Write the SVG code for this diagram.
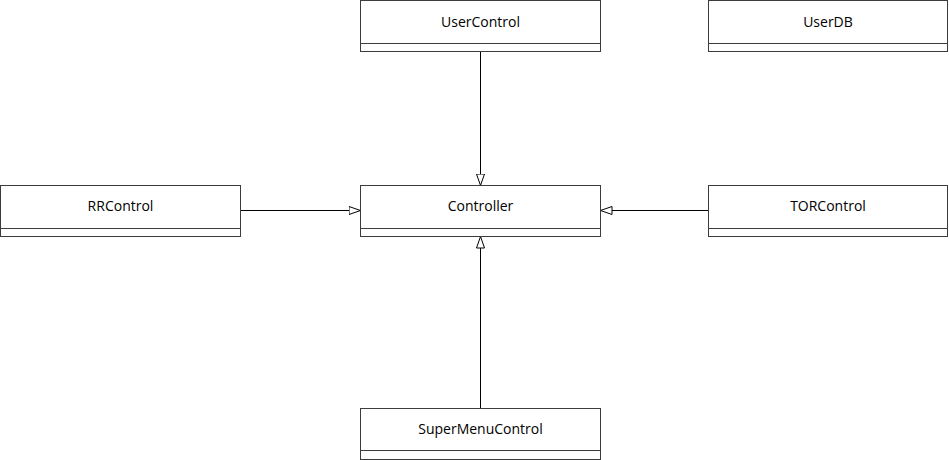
<svg xmlns="http://www.w3.org/2000/svg" width="949" height="460" viewBox="0 0 949 460">
<style>
.box{fill:#fff;stroke:#3c3c3c;stroke-width:1}
.div{stroke:#3c3c3c;stroke-width:1}
.lbl{font-family:"Open Sans","Noto Sans",sans-serif;font-size:14px;fill:#000;text-anchor:middle}
.edge{stroke:#000;stroke-width:1;fill:none;marker-end:url(#tri)}
</style>
<defs>
<marker id="tri" markerUnits="userSpaceOnUse" markerWidth="14" markerHeight="10" refX="12" refY="4.5" orient="auto">
<path d="M0.5,0.5 L12,4.5 L0.5,8.5 Z" fill="#fff" stroke="#000" stroke-width="1"/>
</marker>
</defs>
<rect width="949" height="460" fill="#fff"/>
<g id="connectors">
<line class="edge" x1="480.5" y1="51.5" x2="480.5" y2="185.5"/>
<line class="edge" x1="240.5" y1="210.5" x2="360.5" y2="210.5"/>
<line class="edge" x1="708.5" y1="210.5" x2="600.5" y2="210.5"/>
<line class="edge" x1="480.5" y1="408.5" x2="480.5" y2="236.5"/>
</g>
<g id="UserControl">
<rect class="box" x="360.5" y="0.5" width="240" height="51"/>
<line class="div" x1="360.5" y1="43.5" x2="600.5" y2="43.5"/>
<text class="lbl" x="480.5" y="26.5">UserControl</text>
</g>
<g id="UserDB">
<rect class="box" x="708.5" y="0.5" width="239" height="51"/>
<line class="div" x1="708.5" y1="43.5" x2="947.5" y2="43.5"/>
<text class="lbl" x="828" y="26.5">UserDB</text>
</g>
<g id="RRControl">
<rect class="box" x="0.5" y="185.5" width="240" height="51"/>
<line class="div" x1="0.5" y1="228.5" x2="240.5" y2="228.5"/>
<text class="lbl" x="120.5" y="211">RRControl</text>
</g>
<g id="Controller">
<rect class="box" x="360.5" y="185.5" width="240" height="51"/>
<line class="div" x1="360.5" y1="228.5" x2="600.5" y2="228.5"/>
<text class="lbl" x="480.5" y="211">Controller</text>
</g>
<g id="TORControl">
<rect class="box" x="708.5" y="185.5" width="239" height="51"/>
<line class="div" x1="708.5" y1="228.5" x2="947.5" y2="228.5"/>
<text class="lbl" x="828" y="211">TORControl</text>
</g>
<g id="SuperMenuControl">
<rect class="box" x="360.5" y="408.5" width="240" height="51"/>
<line class="div" x1="360.5" y1="450.5" x2="600.5" y2="450.5"/>
<text class="lbl" x="480.5" y="434">SuperMenuControl</text>
</g>
</svg>
